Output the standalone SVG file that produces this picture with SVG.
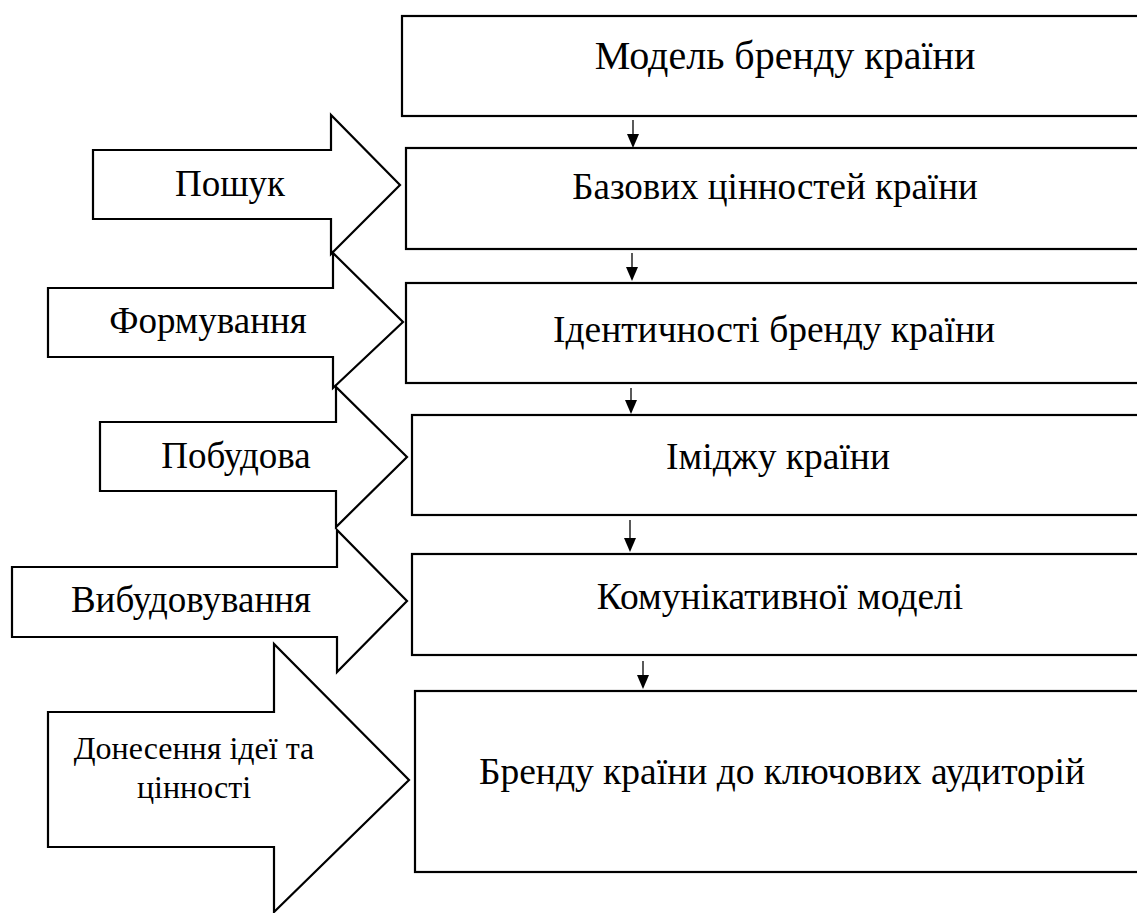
<svg xmlns="http://www.w3.org/2000/svg" width="1137" height="913" viewBox="0 0 1137 913">
<style>
.box{fill:#fff;stroke:#000;stroke-width:2.2}
.arr{fill:#fff;stroke:#000;stroke-width:2.2;stroke-linejoin:miter}
.t{fill:#000;text-anchor:middle}
.r{font-size:37.5px}
.l{font-size:37px}
.s{font-size:32px}
.c{stroke:#000;stroke-width:1.3;fill:none}
</style>
<rect width="1137" height="913" fill="#fff"/>
<g font-family="Liberation Serif, Tinos, Times New Roman">
<g id="box1"><rect class="box" x="402" y="16" width="760" height="100"/><text class="t" font-size="40" x="785" y="69">Модель бренду країни</text></g>
<g id="box2"><rect class="box" x="406" y="148" width="760" height="101"/><text class="t" font-size="37" x="775" y="199">Базових цінностей країни</text></g>
<g id="box3"><rect class="box" x="406" y="283" width="760" height="100"/><text class="t r" x="774" y="342">Ідентичності бренду країни</text></g>
<g id="box4"><rect class="box" x="412" y="415" width="760" height="100"/><text class="t r" x="778" y="469">Іміджу країни</text></g>
<g id="box5"><rect class="box" x="412" y="554" width="760" height="101"/><text class="t r" x="780" y="609">Комунікативної моделі</text></g>
<g id="box6"><rect class="box" x="415" y="691" width="760" height="181"/><text class="t r" x="782" y="784">Бренду країни до ключових аудиторій</text></g>
<g id="arrow1"><polygon class="arr" points="93,150 331,150 331,115 400,185 331,254 331,219 93,219"/><text class="t l" x="230" y="196">Пошук</text></g>
<g id="arrow2"><polygon class="arr" points="48,288 333,288 333,253 403,322 333,388 333,357 48,357"/><text class="t l" x="208" y="333">Формування</text></g>
<g id="arrow3"><polygon class="arr" points="100,422 336,422 336,387 407,457 336,527 336,491 100,491"/><text class="t l" x="236" y="468">Побудова</text></g>
<g id="arrow4"><polygon class="arr" points="12,567 337,567 337,530 407,601 337,672 337,637 12,637"/><text class="t l" x="191" y="612">Вибудовування</text></g>
<g id="arrow5"><polygon class="arr" points="48,712 274,712 274,644 409,780 274,912 274,847 48,847"/><text class="t s" x="194" y="759">Донесення ідеї та</text><text class="t s" x="194" y="798">цінності</text></g>
</g>
<g id="connectors">
<line class="c" x1="633" y1="120" x2="633" y2="134"/><path d="M627,134 L639,134 L633,148 Z"/>
<line class="c" x1="632" y1="253" x2="632" y2="267"/><path d="M626,267 L638,267 L632,281 Z"/>
<line class="c" x1="631" y1="388" x2="631" y2="400"/><path d="M625,400 L637,400 L631,414 Z"/>
<line class="c" x1="630" y1="520" x2="630" y2="538"/><path d="M624,538 L636,538 L630,552 Z"/>
<line class="c" x1="643" y1="661" x2="643" y2="675"/><path d="M637,675 L649,675 L643,689 Z"/>
</g>
</svg>
